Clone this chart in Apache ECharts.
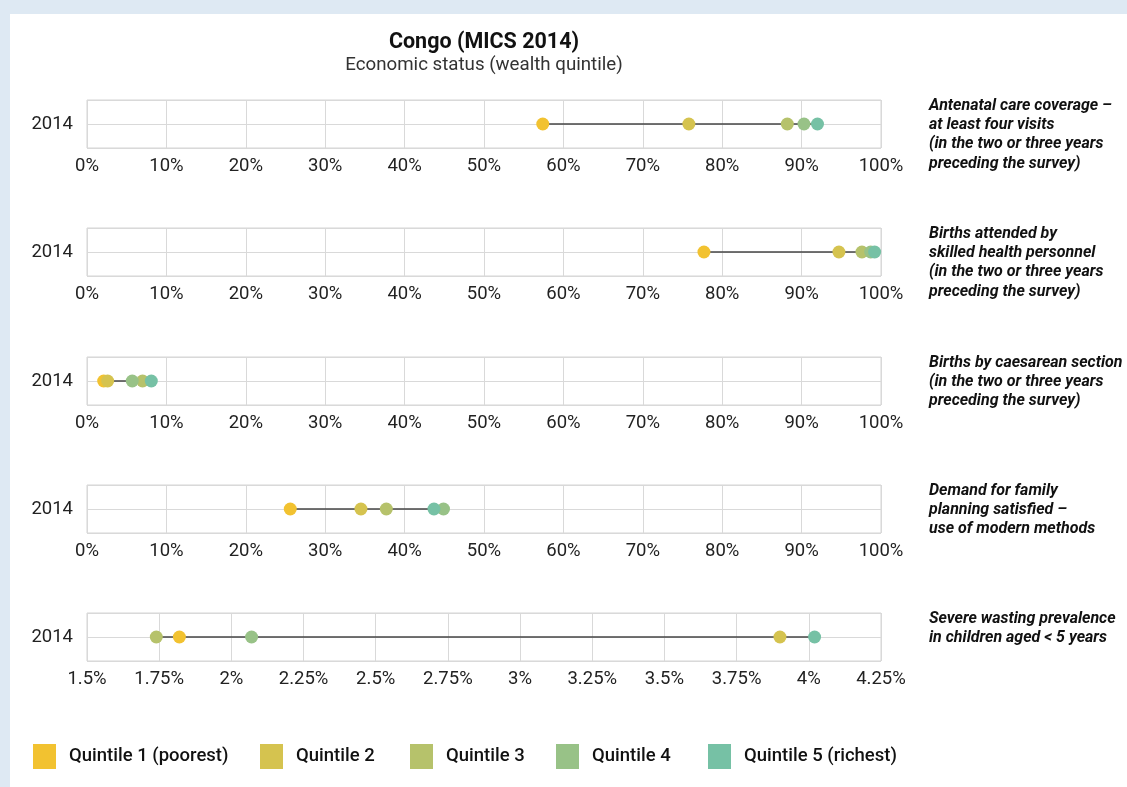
<!DOCTYPE html>
<html>
<head>
<meta charset="utf-8">
<script src="https://cdn.jsdelivr.net/npm/echarts@6/dist/echarts.min.js"></script>
<style>
  html, body { margin: 0; padding: 0; background: #dee9f3; }
  #main { width: 1127px; height: 787px; }
</style>
</head>
<body>
<div id="main"></div>
<script>
// data
const years = ['2014'];
const quintiles = ['Quintile 1 (poorest)', 'Quintile 2', 'Quintile 3', 'Quintile 4', 'Quintile 5 (richest)'];
const colors = ['#f2c230', '#d5c34f', '#b6c26b', '#98c287', '#76c1a5'];
const indicators = [
  'Antenatal care coverage –\nat least four visits\n(in the two or three years\npreceding the survey)',
  'Births attended by\nskilled health personnel\n(in the two or three years\npreceding the survey)',
  'Births by caesarean section\n(in the two or three years\npreceding the survey)',
  'Demand for family\nplanning satisfied –\nuse of modern methods',
  'Severe wasting prevalence\nin children aged < 5 years'
];
// values per indicator, in quintile order 1..5
const ancValues = [57.4, 75.8, 88.2, 90.3, 92.0];
const sbaValues = [77.7, 94.7, 97.6, 98.7, 99.2];
const csValues = [2.1, 2.6, 7.0, 5.7, 8.1];
const fpValues = [25.6, 34.5, 37.7, 44.9, 43.7];
const wastingValues = [1.82, 3.90, 1.74, 2.07, 4.02];
const panelValues = [ancValues, sbaValues, csValues, fpValues, wastingValues];
const axisMin = [0, 0, 0, 0, 1.5];
const axisMax = [100, 100, 100, 100, 4.25];
const axisStep = [10, 10, 10, 10, 0.25];

const gridTops = [100, 228, 357, 485, 613];

var myChart = echarts.init(document.getElementById('main'));

let grids = [], xAxes = [], yAxes = [], series = [], graphics = [];

graphics.push({
  type: 'rect', z: -100, silent: true,
  shape: { x: 10, y: 14, width: 1117, height: 773 },
  style: { fill: '#ffffff' }
});

panelValues.forEach((vals, p) => {
  grids.push({
    left: 87, width: 794, top: gridTops[p], height: 48,
    show: true, borderColor: '#d4d4d4', borderWidth: 1, backgroundColor: 'transparent'
  });
  xAxes.push({
    type: 'value', gridIndex: p,
    min: axisMin[p], max: axisMax[p], interval: axisStep[p],
    axisLine: { show: false }, axisTick: { show: false },
    splitLine: { lineStyle: { color: '#d9d9d9', width: 1 } },
    axisLabel: {
      color: '#222', fontSize: 18.5, margin: 9, fontFamily: 'Roboto',
      formatter: v => v + '%'
    }
  });
  yAxes.push({
    type: 'value', gridIndex: p, min: -1, max: 1, interval: 1,
    axisLine: { show: false }, axisTick: { show: false },
    splitLine: { lineStyle: { color: '#d9d9d9', width: 1 } },
    axisLabel: {
      color: '#222', fontSize: 18.5, margin: 14, fontFamily: 'Roboto',
      formatter: v => (v === 0 ? years[0] : '')
    }
  });
  // connecting line from lowest to highest quintile
  series.push({
    type: 'line', xAxisIndex: p, yAxisIndex: p, z: 1,
    symbol: 'none', silent: true,
    lineStyle: { color: '#444', width: 1.5 },
    data: [[Math.min(...vals), 0], [Math.max(...vals), 0]]
  });
  vals.forEach((v, q) => {
    series.push({
      name: quintiles[q], type: 'scatter', xAxisIndex: p, yAxisIndex: p, z: 2,
      symbolSize: 13, itemStyle: { color: colors[q], opacity: 1 },
      data: [[v, 0]]
    });
  });
  graphics.push({
    type: 'text', left: 929, top: gridTops[p] - 4,
    style: {
      text: indicators[p], fill: '#111', fontSize: 16, lineHeight: 19.3,
      fontStyle: 'italic', fontWeight: 'bold', fontFamily: 'Roboto'
    }
  });
});

const legendLefts = [33, 260, 410, 556, 708];
const legends = quintiles.map((name, i) => ({
  data: [name], left: legendLefts[i], top: 744, padding: 0,
  icon: 'rect', itemWidth: 23, itemHeight: 25, selectedMode: false,
  textStyle: { fontSize: 18.5, fontWeight: 500, color: '#111', fontFamily: 'Roboto', padding: [0, 0, 0, 8] }
}));

myChart.setOption({
  backgroundColor: '#dee9f3',
  animation: false,
  title: {
    text: 'Congo (MICS 2014)',
    subtext: 'Economic status (wealth quintile)',
    left: 479, top: 27, textAlign: 'center', itemGap: 2,
    textStyle: { fontSize: 21.5, fontWeight: 'bold', color: '#111', fontFamily: 'Roboto' },
    subtextStyle: { fontSize: 18.7, color: '#333', fontFamily: 'Roboto' }
  },
  legend: legends,
  grid: grids,
  xAxis: xAxes,
  yAxis: yAxes,
  series: series,
  graphic: graphics
});
</script>
</body>
</html>
